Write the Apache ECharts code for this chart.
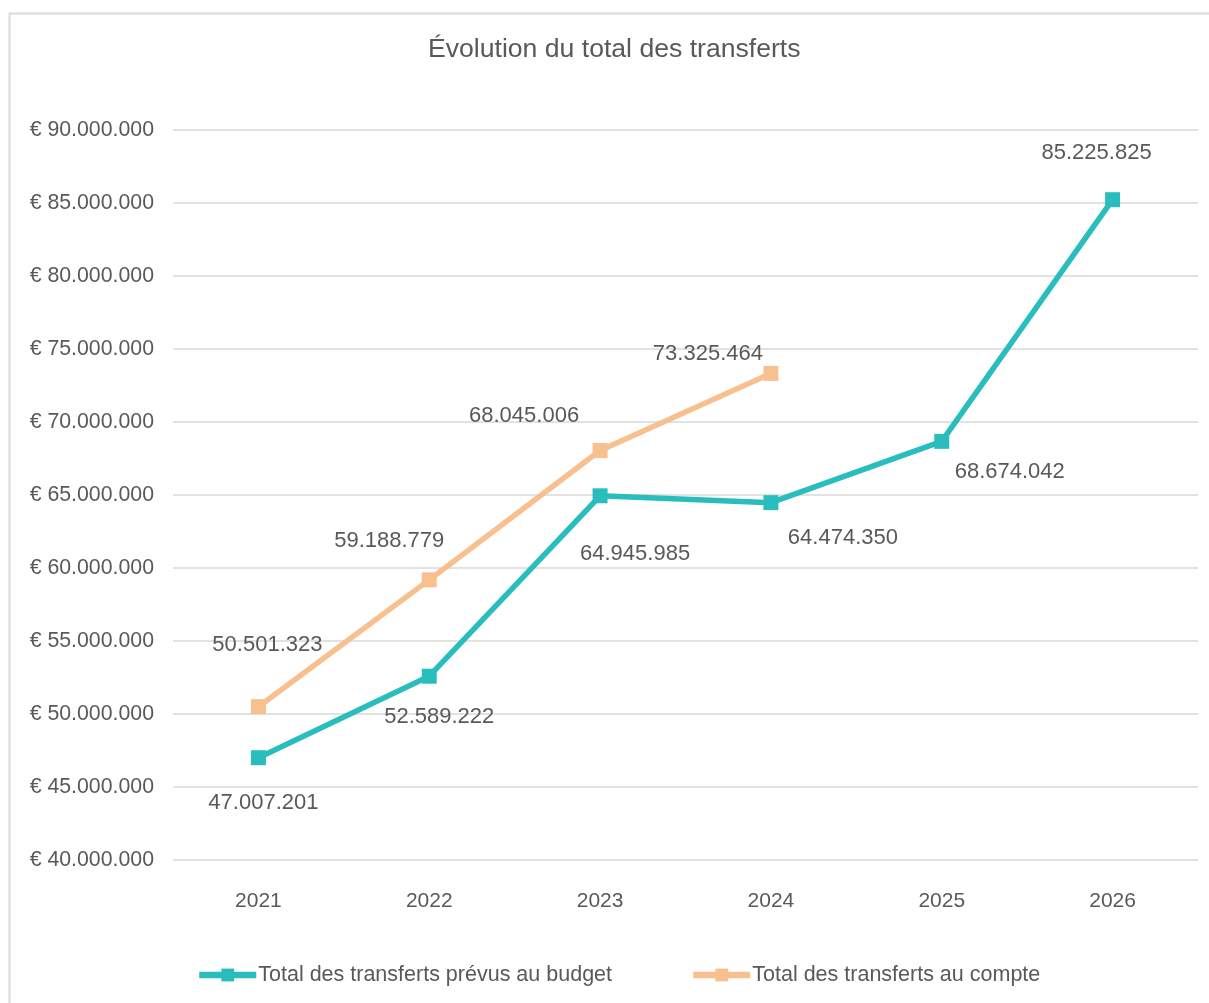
<!DOCTYPE html>
<html><head><meta charset="utf-8">
<script src="https://cdn.jsdelivr.net/npm/echarts@6/dist/echarts.min.js"></script>
<style>html,body{margin:0;padding:0;background:#fff}#c{width:1209px;height:1003px}</style>
</head><body><div id="c"></div>
<script>
var years = ['2021','2022','2023','2024','2025','2026'];
var budgetValues = [47007201, 52589222, 64945985, 64474350, 68674042, 85225825];
var compteValues = [50501323, 59188779, 68045006, 73325464, null, null];
var budgetName = 'Total des transferts prévus au budget';
var compteName = 'Total des transferts au compte';
var yTicks = [40000000, 90000000, 5000000]; // min, max, interval
// label offsets (px) relative to each point
var budgetLabelOffsets = [[5,45],[10,41],[35,58],[72,35],[68,31],[-16,-47]];
var compteLabelOffsets = [[9,-62],[-40,-39],[-76,-35],[-63,-20]];

function fmt(v){ return String(Math.round(v)).replace(/\B(?=(\d{3})+(?!\d))/g,'.'); }
function buildData(vals, offs){
  return vals.map(function(v,i){
    if (v === null) return null;
    return {value: v, label: {offset: offs[i]}};
  });
}
var FONT = 'Liberation Sans';
var TXT = '#595959';
var chart = echarts.init(document.getElementById('c'));
chart.setOption({
  animation: false,
  backgroundColor: '#fff',
  textStyle: {fontFamily: FONT},
  title: {text: 'Évolution du total des transferts', left: 423, top: 31,
    textStyle: {fontFamily: FONT, fontSize: 26.6, fontWeight: 'normal', color: TXT}},
  graphic: [{type: 'rect', shape: {x: 9.5, y: 13.5, width: 1400, height: 1200},
    style: {fill: 'none', stroke: '#d9d9d9', lineWidth: 2}, silent: true, z: -1}],
  grid: {left: 173, right: 11, top: 130, bottom: 143, containLabel: false},
  xAxis: {type: 'category', data: years, boundaryGap: true,
    axisLine: {show: false}, axisTick: {show: false},
    axisLabel: {color: TXT, fontSize: 21, fontFamily: FONT, margin: 31}},
  yAxis: {type: 'value', min: yTicks[0], max: yTicks[1], interval: yTicks[2],
    axisLine: {show: false}, axisTick: {show: false},
    splitLine: {lineStyle: {color: '#d9d9d9', width: 1.5}},
    axisLabel: {color: TXT, fontSize: 21.3, fontFamily: FONT, margin: 19,
      formatter: function(v){ return '€ ' + fmt(v); }}},
  legend: {bottom: 12, left: 191, itemGap: 78, itemWidth: 57, itemHeight: 16,
    lineStyle: {width: 6.5},
    textStyle: {color: TXT, fontSize: 21.5, fontFamily: FONT, padding: [0, 0, 0, -3]},
    data: [budgetName, compteName]},
  series: [
    {name: budgetName, type: 'line', data: buildData(budgetValues, budgetLabelOffsets),
      color: '#2abdbd', symbol: 'rect', symbolSize: 15,
      lineStyle: {width: 5.5, color: '#2abdbd'}, itemStyle: {color: '#2abdbd'},
      label: {show: true, position: 'inside', color: TXT, fontSize: 22, fontFamily: FONT,
        formatter: function(p){ return fmt(p.value); }}, z: 3},
    {name: compteName, type: 'line', data: buildData(compteValues, compteLabelOffsets),
      color: '#f9c08f', symbol: 'rect', symbolSize: 15,
      lineStyle: {width: 5.5, color: '#f9c08f'}, itemStyle: {color: '#f9c08f'},
      label: {show: true, position: 'inside', color: TXT, fontSize: 22, fontFamily: FONT,
        formatter: function(p){ return fmt(p.value); }}, z: 2}
  ]
});
</script></body></html>
